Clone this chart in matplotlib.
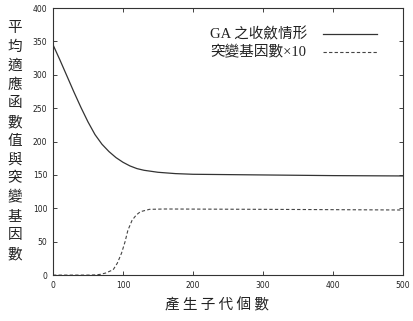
import matplotlib
matplotlib.use("Agg")
import matplotlib.pyplot as plt
from matplotlib.lines import Line2D

# average fitness curve (GA convergence)
gen_fit = [0, 10, 20, 30, 40, 50, 60, 70, 80, 90, 100, 110, 120, 130,
           150, 175, 200, 300, 400, 500]
fitness = [345, 322, 298, 274, 251, 229.5, 210.5, 196, 185, 176, 169, 163.5,
           159.5, 157, 154, 152, 151, 150, 149, 148.5]

# mutated genes x10
gen_mut = [0, 50, 60, 67, 75, 86, 92, 98, 103, 107, 113, 119, 125, 138,
           160, 300, 500]
mutation = [0, 0, 0.3, 1, 3, 8, 18, 33, 50, 67, 82, 90, 95, 98.5,
            99, 98.5, 97.5]

ylabel_chars = list("平均適應函數值與突變基因數")
xlabel_text = "產 生 子 代 個 數"
legend_labels = ["GA 之收斂情形", "突變基因數×10"]

cjk = ["Noto Sans CJK TC", "DejaVu Sans"]
serif_cjk = ["Liberation Serif", "Noto Sans CJK TC", "DejaVu Sans"]

fig = plt.figure(figsize=(4.14, 3.21), dpi=100)
ax = fig.add_axes([0.128, 0.143, 0.845, 0.832])

solid_style = dict(color="#333333", lw=0.9)
dash_style = dict(color="#444444", lw=0.8, ls=(0, (3, 2)))
ax.plot(gen_fit, fitness, **solid_style)
ax.plot(gen_mut, mutation, **dash_style)

ax.set_xlim(0, 500)
ax.set_ylim(0, 400)
ax.set_xticks(range(0, 501, 100))
ax.set_yticks(range(0, 401, 50))
ax.tick_params(direction="in", top=True, right=True, length=3,
               width=0.6, labelsize=5.5, pad=4, colors="#222222")
for s in ax.spines.values():
    s.set_linewidth(0.8)
    s.set_color("#333333")

# gnuplot-style key: left-aligned text, line sample to the right
for i, (lab, style) in enumerate(zip(legend_labels, [solid_style, dash_style])):
    y = 1 - (34 + 18 * i) / 321
    fig.text(210 / 414, y, lab, family=serif_cjk, fontsize=10.5,
             ha="left", va="center", color="#222222")
    fig.add_artist(Line2D([323 / 414, 377 / 414], [y, y], **style))

fig.text(0.036, 0.935, "\n".join(ylabel_chars), family=cjk, fontsize=10.5,
         ha="center", va="top", linespacing=1.44, color="#222222")
fig.text(0.525, 0.048, xlabel_text, family=cjk, fontsize=10.5,
         ha="center", va="center", color="#222222")

fig.savefig("out.png", dpi=100)
